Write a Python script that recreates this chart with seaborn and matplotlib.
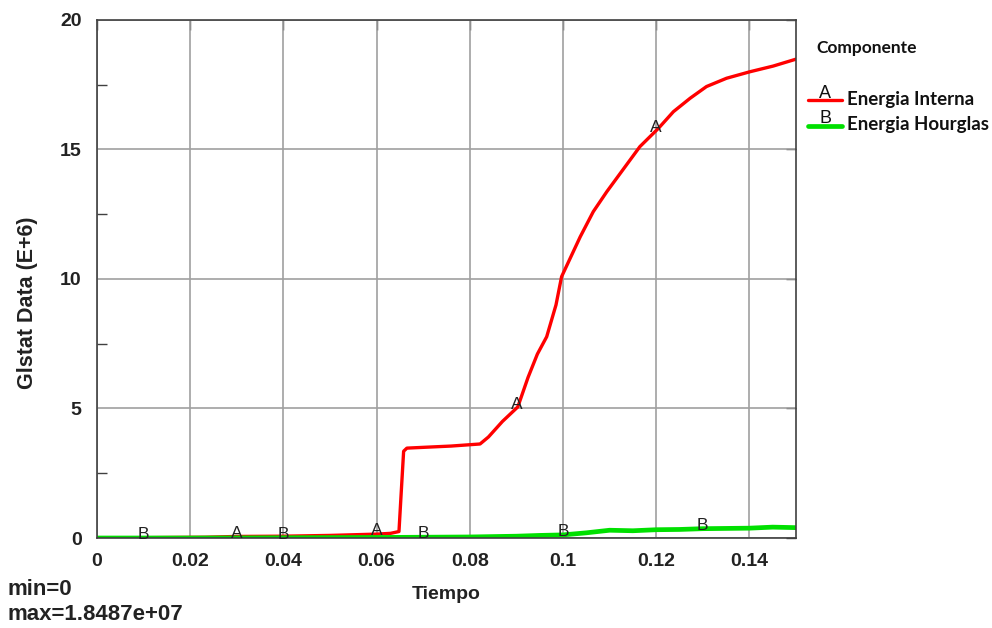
import numpy as np
import pandas as pd
import matplotlib
matplotlib.use("Agg")
import matplotlib.pyplot as plt
import seaborn as sns
from matplotlib.lines import Line2D
from matplotlib.ticker import MultipleLocator

# ---- data (values in E+6) ----
t_interna = [0.0, 0.0232, 0.03, 0.04, 0.05, 0.06, 0.063, 0.0648, 0.0652, 0.0658, 0.0665,
             0.07, 0.076, 0.0822, 0.084, 0.087, 0.0903, 0.0925, 0.0945, 0.0965, 0.0985,
             0.0997, 0.1037, 0.1065, 0.1094, 0.1165, 0.1205, 0.1237, 0.1273, 0.1308,
             0.1351, 0.1401, 0.1451, 0.15]
e_interna = [0.0, 0.03, 0.06, 0.07, 0.1, 0.15, 0.18, 0.25, 1.5, 3.35, 3.47,
             3.5, 3.55, 3.63, 3.9, 4.5, 5.06, 6.2, 7.1, 7.77, 9.0,
             10.09, 11.63, 12.6, 13.37, 15.11, 15.82, 16.46, 16.98, 17.43,
             17.75, 18.0, 18.22, 18.487]
t_hourglass = [0.0, 0.02, 0.04, 0.06, 0.08, 0.09, 0.095, 0.1, 0.105, 0.11, 0.115,
               0.12, 0.125, 0.13, 0.135, 0.14, 0.145, 0.15]
e_hourglass = [0.0, 0.0, 0.01, 0.02, 0.04, 0.07, 0.1, 0.12, 0.2, 0.3, 0.28,
               0.32, 0.33, 0.36, 0.37, 0.38, 0.42, 0.4]

series_names = ["Energia Interna", "Energia Hourglas"]
series_letters = ["A", "B"]
series_colors = ["#ff0000", "#00e000"]
series_widths = [2.4, 3.4]
label_pos_a = [0.03, 0.06, 0.09, 0.12]
label_pos_b = [0.01, 0.04, 0.07, 0.10, 0.13]

x_ticks = [0, 0.02, 0.04, 0.06, 0.08, 0.1, 0.12, 0.14]
x_ticklabels = ["0", "0.02", "0.04", "0.06", "0.08", "0.1", "0.12", "0.14"]
y_ticks = [0, 5, 10, 15, 20]

df = pd.concat([
    pd.DataFrame({"Tiempo": t_interna, "Valor": e_interna, "Componente": series_names[0]}),
    pd.DataFrame({"Tiempo": t_hourglass, "Valor": e_hourglass, "Componente": series_names[1]}),
])

sns.set_theme(style="white")
plt.rcParams["font.family"] = ["Liberation Sans", "DejaVu Sans"]

fig = plt.figure(figsize=(9.92, 6.28), dpi=100)
ax = fig.add_axes([0.0978, 0.1433, 0.7046, 0.8249])

sns.lineplot(data=df, x="Tiempo", y="Valor", hue="Componente", size="Componente",
             palette=dict(zip(series_names, series_colors)),
             sizes=dict(zip(series_names, series_widths)),
             legend=False, ax=ax, estimator=None, sort=False)

ax.set_xlim(0, 0.15)
ax.set_ylim(0, 20)
ax.set_xticks(x_ticks)
ax.set_xticklabels(x_ticklabels)
ax.set_yticks(y_ticks)
ax.yaxis.set_minor_locator(MultipleLocator(2.5))
ax.grid(True, which="major", color="#a0a0a0", linewidth=1.2)
ax.set_axisbelow(True)
for s in ax.spines.values():
    s.set_visible(True)
    s.set_color("#404040")
    s.set_linewidth(1.2)
ax.tick_params(axis="both", which="major", direction="out", length=7, width=1,
               color="#404040", labelsize=14, pad=4, labelcolor="#222222")
ax.tick_params(axis="y", which="minor", direction="in", length=7, width=1, color="#404040", left=True)
for lab in ax.get_xticklabels() + ax.get_yticklabels():
    lab.set_fontweight("bold")

# inward ticks on top and right edges
sec_top = ax.secondary_xaxis("top")
sec_top.set_xticks(x_ticks)
sec_top.tick_params(direction="in", length=7, width=1, color="#404040", labeltop=False)
sec_top.spines["top"].set_visible(False)
sec_right = ax.secondary_yaxis("right")
sec_right.set_yticks(y_ticks)
sec_right.tick_params(direction="in", length=7, width=1, color="#404040", labelright=False)
sec_right.spines["right"].set_visible(False)

ax.set_xlabel("Tiempo", fontsize=14, fontweight="bold", color="#222222", labelpad=11)
ax.set_ylabel("Glstat Data (E+6)", fontsize=15.5, fontweight="bold", color="#222222")
ax.yaxis.set_label_coords(-0.084, 0.454)

# letter labels along curves
for letter, xs, tt, ee in [("A", label_pos_a, t_interna, e_interna),
                           ("B", label_pos_b, t_hourglass, e_hourglass)]:
    for xp in xs:
        yv = np.interp(xp, tt, ee)
        ax.annotate(letter, (xp, yv), xytext=(0, -3), textcoords="offset points",
                    ha="center", va="bottom", fontsize=12.5, color="#222222")

# legend (drawn manually)
fig.text(0.823, 0.916, "Componente", fontsize=12.5, fontweight="bold", color="#111111",
         family=["Lato", "DejaVu Sans"])
for i, (name, letter, col, lw) in enumerate(zip(series_names, series_letters, series_colors, series_widths)):
    yy = 0.840 - i * 0.040
    fig.add_artist(Line2D([0.815, 0.849], [yy, yy], color=col, linewidth=lw,
                          transform=fig.transFigure))
    fig.text(0.832, yy - 0.003, letter, ha="center", va="bottom", fontsize=13, color="#111111")
    fig.text(0.854, yy + 0.002, name, ha="left", va="center", fontsize=13.5, fontweight="bold",
             color="#111111", family=["Lato", "DejaVu Sans"])

fig.text(0.008, 0.052, "min=0", fontsize=16, fontweight="bold", color="#222222")
fig.text(0.008, 0.012, "max=1.8487e+07", fontsize=16, fontweight="bold", color="#222222")

fig.savefig("out.png", dpi=100, facecolor="white")
